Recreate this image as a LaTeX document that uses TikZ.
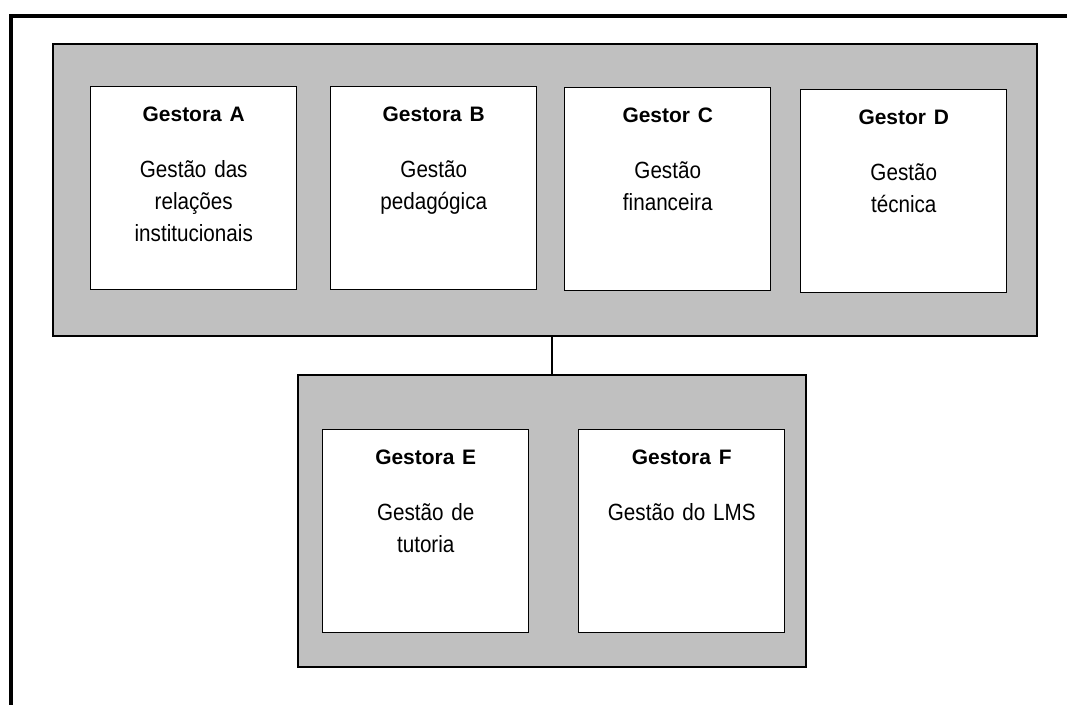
\documentclass[tikz,border=0pt]{standalone}
\usepackage{fontspec}
\setmainfont{Liberation Sans}
\newfontfamily\bodyfont[FakeStretch=0.88]{Liberation Sans}
\usetikzlibrary{positioning,fit}
\definecolor{panelgrey}{RGB}{192,192,192}
\newcommand{\mgr}[1]{{\normalfont\bfseries\fontsize{15.7}{18}\selectfont #1}}

\begin{document}
\begin{tikzpicture}[x=0.75pt, y=-0.75pt,
  panel/.style={draw=black, fill=panelgrey, line width=1.1pt, inner sep=0pt},
  card/.style={draw=black, fill=white, line width=1.1pt, anchor=north west,
    inner sep=0pt, text width=154.5pt, align=center,
    text height=26.25pt, text depth=126pt,
    font=\bodyfont\fontsize{17.6}{24}\selectfont},
  outerline/.style={line width=2.8pt}]
  \useasboundingbox (0,0) rectangle (1067,705);
  % outer frame : open at right and bottom
  \draw[outerline] (10.8,705) -- (10.8,16) -- (1067,16);
  % top panel : four managers
  \node[panel, fit={(53,44) (1037,336)}] (toppanel) {};
  \node[card] (gA) at (90,86) {\mgr{Gestora A}\\[18pt] Gestão das\\ relações\\ institucionais};
  \node[card] (gB) at (330,86) {\mgr{Gestora B}\\[18pt] Gestão\\ pedagógica};
  \node[card] (gC) at (564,87) {\mgr{Gestor C}\\[18pt] Gestão\\ financeira};
  \node[card] (gD) at (800,89) {\mgr{Gestor D}\\[18pt] Gestão\\ técnica};
  % bottom panel : two managers
  \node[panel, fit={(298,375) (806,667)}] (botpanel) {};
  \node[card] (gE) at (322,429) {\mgr{Gestora E}\\[18pt] Gestão de\\ tutoria};
  \node[card] (gF) at (578,429) {\mgr{Gestora F}\\[18pt] Gestão do LMS};
  % link between the panels
  \draw[line width=1.1pt] (toppanel.south -| botpanel.north) -- (botpanel.north);
\end{tikzpicture}
\end{document}
